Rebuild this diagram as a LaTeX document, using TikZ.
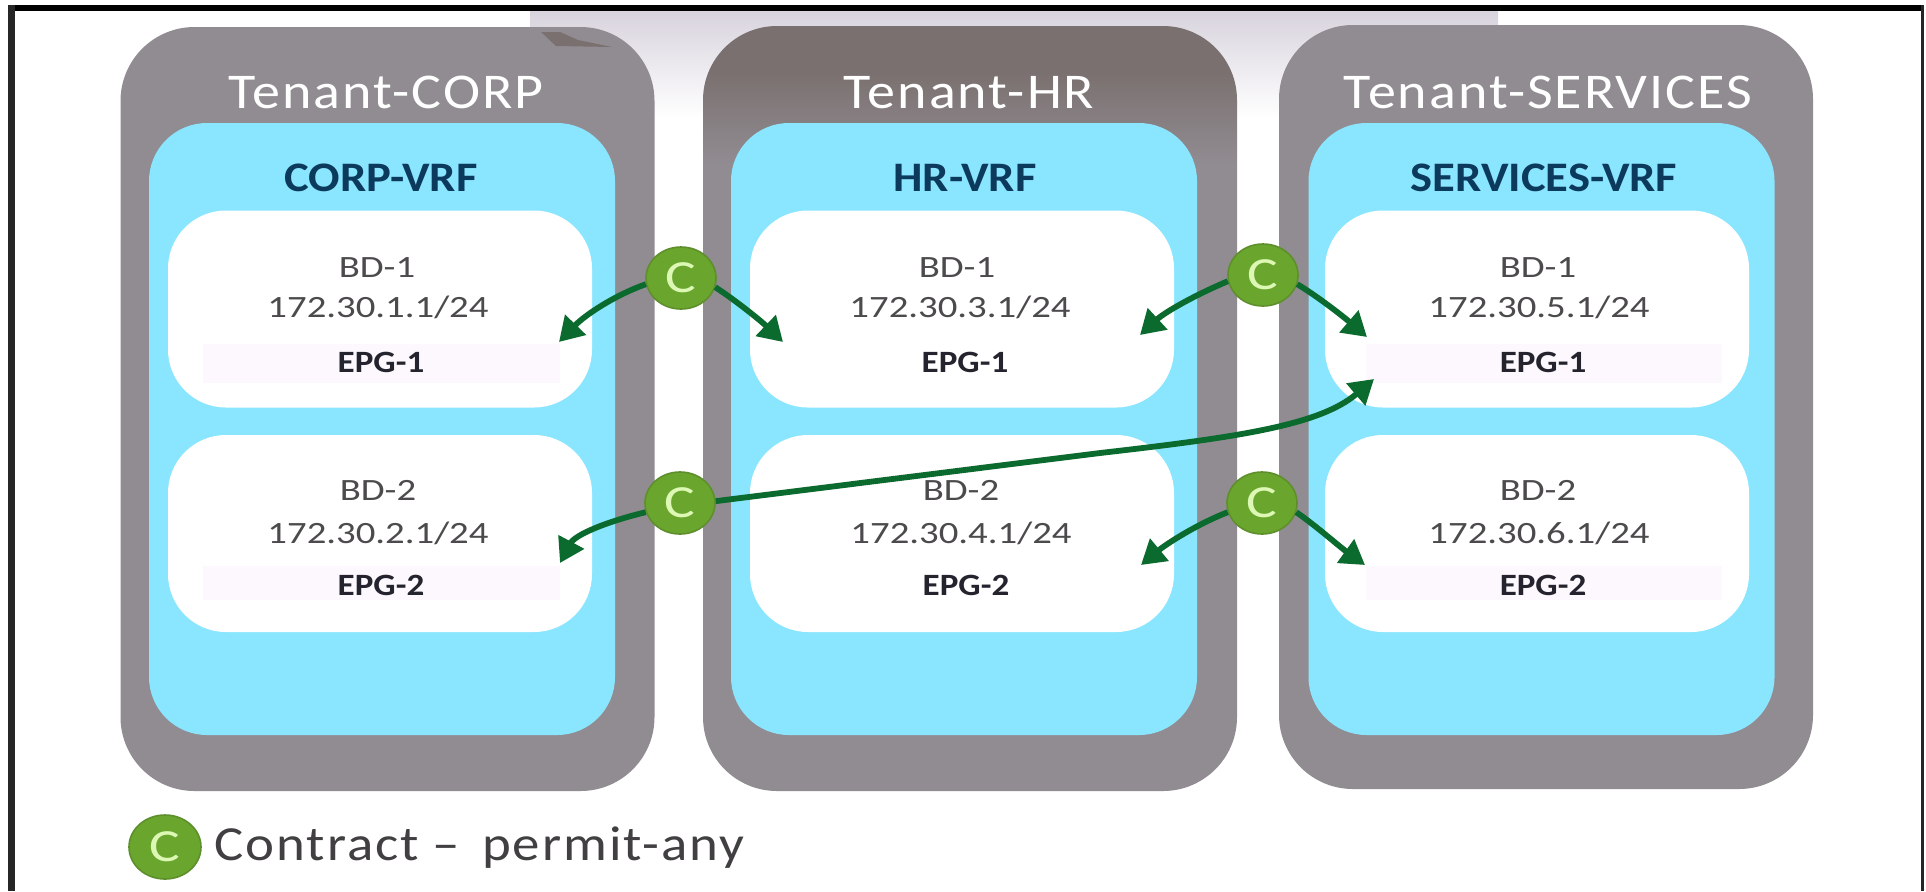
\documentclass[tikz,border=0pt]{standalone}
\usepackage{fontspec}
\usetikzlibrary{arrows.meta,shapes.geometric}
\newfontfamily\lab[FakeStretch=1.25]{Carlito}
\newfontfamily\blab[FakeStretch=1.13]{Carlito}
\newfontfamily\vlab[FakeStretch=1.11]{Carlito}
\newfontfamily\ttl[FakeStretch=1.12,LetterSpace=4]{Carlito}
\definecolor{tgray}{HTML}{918C92}
\definecolor{tbrown}{HTML}{7A706F}
\definecolor{vblue}{HTML}{8AE5FE}
\definecolor{navy}{HTML}{0C3A5C}
\definecolor{bodytxt}{HTML}{4C4A4C}
\definecolor{epgtxt}{HTML}{25242E}
\definecolor{cgreen}{HTML}{6AA62E}
\definecolor{cedge}{HTML}{5E8F2C}
\definecolor{cletter}{HTML}{DDF8B4}
\definecolor{arrgreen}{HTML}{0B6A2E}
\definecolor{band}{HTML}{D8D3DD}
\definecolor{epgband}{HTML}{FCF8FD}
\pgfdeclareverticalshading{hrshade}{100bp}{color(0bp)=(tgray);color(66bp)=(tgray);color(72bp)=(tbrown);color(100bp)=(tbrown)}
\tikzset{
  tenant/.style={fill=tgray,rounded corners=37pt,minimum width=267pt,minimum height=382pt,inner sep=0pt},
  vrf/.style={fill=vblue,rounded corners=29pt,minimum width=233pt,minimum height=306pt,inner sep=0pt},
  bdbox/.style={fill=white,rounded corners=29pt,minimum width=212pt,minimum height=98.5pt,inner sep=0pt},
  tenanttxt/.style={anchor=base,text=white,font=\ttl\fontsize{25}{30}\selectfont,inner sep=0pt},
  vrftxt/.style={anchor=base,text=navy,font=\vlab\bfseries\fontsize{21}{25}\selectfont,inner sep=0pt},
  bodylab/.style={anchor=base,text=bodytxt,font=\lab\fontsize{15.5}{19}\selectfont,inner sep=0pt},
  epglab/.style={anchor=base,text=epgtxt,font=\blab\bfseries\fontsize{15.5}{19}\selectfont,inner sep=0pt},
  contract/.style={ellipse,fill=cgreen,draw=cedge,line width=0.8pt,minimum width=35pt,minimum height=31pt,inner sep=0pt,text=cletter,font=\lab\fontsize{23}{26}\selectfont},
  arr/.style={draw=arrgreen,line width=2.9pt,-{Triangle[length=12pt,width=14pt]}},
  x=0.5pt,y=-0.5pt
}
\begin{document}
\begin{tikzpicture}
\useasboundingbox (0,0) rectangle (1926,891);
\fill[white] (0,0) rectangle (1926,891);
% washed-out band behind the top of the panels
\fill[top color=band,bottom color=white] (530,11) rectangle (1498,118);
% frame
\fill[black] (8,5) rectangle (1924,11);
\fill[black!85] (8,5) rectangle (15,891);
\fill[black!85] (1921,5) rectangle (1924,891);
% tenants
\node[tenant] (tcorp) at (387.5,409) {};
\shade[shading=hrshade,rounded corners=37pt] (703,26) rectangle (1237,791);
\node[minimum width=267pt,minimum height=382pt,inner sep=0pt] (thr) at (970,408.5) {};
\node[tenant] (tsvc) at (1546,407) {};
\fill[tbrown] (541,32) -- (560,32) -- (578,40) -- (612,47) -- (556,46) -- cycle;
% VRFs
\node[vrf] (vcorp) at (382,429) {};
\node[vrf] (vhr) at (964,429) {};
\node[vrf] (vsvc) at (1541.5,429) {};
% bridge domains
\node[bdbox] (corpa) at (380,309) {};
\node[bdbox] (corpb) at (380,533.5) {};
\node[bdbox] (hra) at (962,309) {};
\node[bdbox] (hrb) at (962,533.5) {};
\node[bdbox] (svca) at (1537,309) {};
\node[bdbox] (svcb) at (1537,533.5) {};
% faint EPG strips
\fill[epgband] (203,344) rectangle (560,383);
\fill[epgband] (203,566) rectangle (560,600);
\fill[epgband] (1366,344) rectangle (1722,383);
\fill[epgband] (1366,566) rectangle (1722,600);
% titles
\node[tenanttxt] (ta) at (386,108) {Tenant-CORP};
\node[tenanttxt] (tb) at (969,108) {Tenant-HR};
\node[tenanttxt] (tc) at (1548,108) {Tenant-SERVICES};
\node[vrftxt] (va) at (381,191) {CORP-VRF};
\node[vrftxt] (vb) at (965,191) {HR-VRF};
\node[vrftxt] (vc) at (1544,191) {SERVICES-VRF};
% first row
\node[bodylab] (a1) at (377,277) {BD-1};
\node[bodylab] (a2) at (378,317) {172.30.1.1/24};
\node[epglab] (a3) at (381,372) {EPG-1};
\node[bodylab] (b1) at (957,277) {BD-1};
\node[bodylab] (b2) at (960,317) {172.30.3.1/24};
\node[epglab] (b3) at (965,372) {EPG-1};
\node[bodylab] (c1t) at (1538,277) {BD-1};
\node[bodylab] (c2t) at (1539,317) {172.30.5.1/24};
\node[epglab] (c3t) at (1543,372) {EPG-1};
% second row
\node[bodylab] (d1) at (378,500) {BD-2};
\node[bodylab] (d2) at (378,543) {172.30.2.1/24};
\node[epglab] (d3) at (381,595) {EPG-2};
\node[bodylab] (e1) at (961,500) {BD-2};
\node[bodylab] (e2) at (961,543) {172.30.4.1/24};
\node[epglab] (e3) at (966,595) {EPG-2};
\node[bodylab] (f1) at (1538,500) {BD-2};
\node[bodylab] (f2) at (1539,543) {172.30.6.1/24};
\node[epglab] (f3) at (1543,595) {EPG-2};
% free ends of the connectors
\coordinate (ta1) at (559,342);
\coordinate (ta2) at (783,342);
\coordinate (tb1) at (1140,335);
\coordinate (tb2) at (1367,337);
\coordinate (tc1) at (560,563);
\coordinate (tc2) at (1374,379);
\coordinate (tc0) at (1100,453);
\coordinate (td1) at (1141,565);
\coordinate (td2) at (1365,565);
% contracts
\node[contract] (c1) at (681,278) {C};
\node[contract] (c2) at (1263,275) {C};
\node[contract] (c3) at (680,503) {C};
\node[contract] (c4) at (1262,503) {C};
% connectors
\draw[arr] (c1.190) .. controls (615,295) and (585,315) .. (ta1);
\draw[arr] (c1.-15) .. controls (735,300) and (760,320) .. (ta2);
\draw[arr] (c2.190) .. controls (1195,295) and (1165,312) .. (tb1);
\draw[arr] (c2.-15) .. controls (1320,298) and (1345,318) .. (tb2);
\draw[arr] (c3.195) .. controls (605,522) and (575,535) .. (tc1);
\draw[arr] (c3.3) -- (tc0) .. controls (1240,437) and (1320,425) .. (tc2);
\draw[arr] (c4.195) .. controls (1195,525) and (1165,545) .. (td1);
\draw[arr] (c4.-15) .. controls (1315,525) and (1340,547) .. (td2);
% legend
\node[contract,minimum width=36pt,minimum height=32pt] (lc) at (165,847) {C};
\node[anchor=base west,inner sep=0pt,text=bodytxt!85!black,font=\ttl\fontsize{24.5}{28}\selectfont] (lt) at (214,860) {Contract\hspace{7pt}–\hspace{11pt}permit-any};
\end{tikzpicture}
\end{document}
